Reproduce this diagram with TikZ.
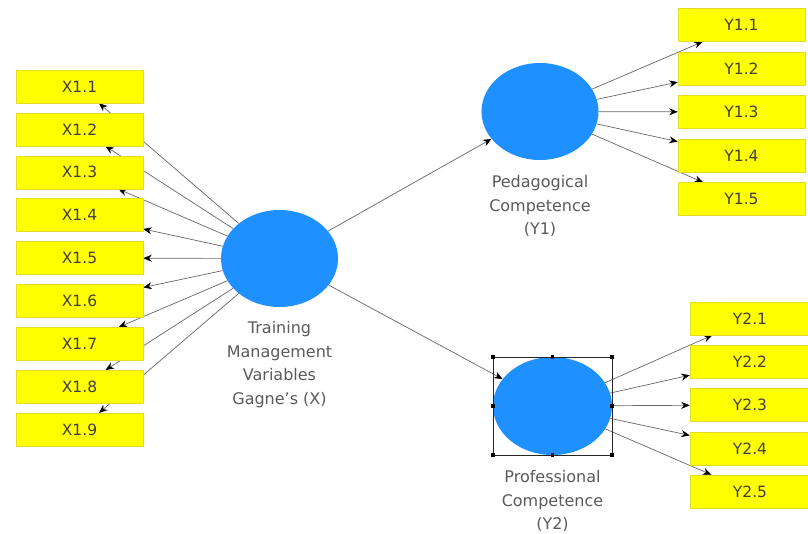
\documentclass[tikz,border=0pt]{standalone}
\usepackage{fontspec}
\setmainfont{DejaVu Sans}
\usetikzlibrary{shapes.geometric, arrows.meta}
\usetikzlibrary{positioning, backgrounds}
\definecolor{latentblue}{RGB}{30,144,255}
\definecolor{itemyellow}{RGB}{255,255,0}
\definecolor{itemedge}{RGB}{225,220,40}
\definecolor{labelgrey}{RGB}{90,90,90}
\tikzstyle{latent}=[ellipse, fill=latentblue, minimum width=117pt, minimum height=97pt, inner sep=0pt]
\tikzstyle{indicator}=[rectangle, fill=itemyellow, draw=itemedge, line width=0.5pt,
                       minimum width=127pt, minimum height=33pt, inner sep=0pt,
                       font=\fontsize{15.5}{18}\selectfont, text=black!75]
\tikzstyle{caption}=[align=center, text=labelgrey, font=\fontsize{16}{23.5}\selectfont]
\tikzstyle{loading}=[draw=black!60, line width=0.7pt, -{Stealth[length=8.5pt,width=7pt,black]}]
\tikzstyle{handle}=[fill=black]

\begin{document}
\begin{tikzpicture}[x=1pt, y=-1pt]
  \useasboundingbox (0,0) rectangle (808,533);

  % latent variables
  \node[latent] (X) at (279.5,258.5) {};
  \node[latent] (Y1) at (540,111.5) {};
  \node[latent, minimum width=119pt, minimum height=98pt] (Y2) at (552.5,406) {};

  \node[caption, below=11pt of X] (capX) {Training\\Management\\Variables\\Gagne's (X)};
  \node[caption, below=12pt of Y1] (capY1) {Pedagogical\\Competence\\(Y1)};
  \node[caption, below=12pt of Y2] (capY2) {Professional\\Competence\\(Y2)};

  % indicators
  \foreach \i in {1,...,9}{
    \node[indicator] (x\i) at (79.5, 86.5+42.9*\i-42.9) {X1.\i};
  }
  \foreach \i in {1,...,5}{
    \node[indicator] (y1\i) at (741.5, 25+43.5*\i-43.5) {Y1.\i};
    \node[indicator, minimum width=120pt] (y2\i) at (750, 318.5+43.25*\i-43.25) {Y2.\i};
  }

  % paths go under the boxes
  \begin{pgfonlayer}{background}
    \foreach \i in {1,...,9}
      \draw[loading] (X) -- (x\i);
    \foreach \i in {1,...,5}{
      \draw[loading] (Y1) -- (y1\i);
      \draw[loading] (Y2) -- (y2\i);
    }
    \draw[loading] (X) -- (Y1);
    \draw[loading] (X) -- (Y2);
  \end{pgfonlayer}

  % selection frame round Y2
  \node[draw=black!85, line width=0.5pt, inner sep=0pt, outer sep=0pt,
        minimum width=119pt, minimum height=98pt] (sel) at (Y2) {};
  \foreach \a in {north west, north, north east, east, south east, south, south west, west}
    \fill[handle] (sel.\a) +(-1.7,-1.7) rectangle +(1.7,1.7);

\end{tikzpicture}
\end{document}
